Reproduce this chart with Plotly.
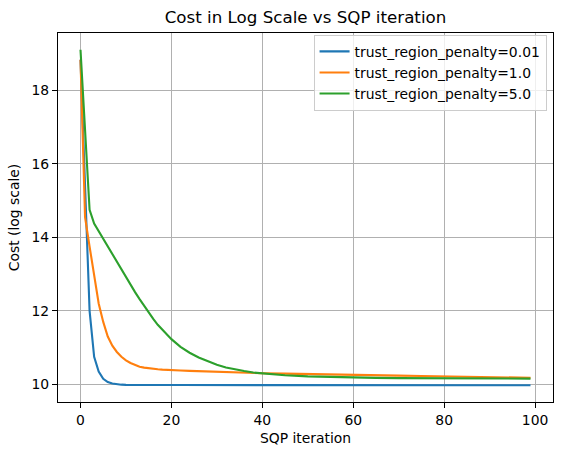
import plotly.graph_objects as go

iters = list(range(0, 21)) + [22, 24, 26, 28, 30, 32, 34, 36, 38, 40,
                              45, 50, 55, 60, 65, 70, 75, 80, 85, 90, 95, 99]

# log cost, trust_region_penalty = 0.01 / 1.0 / 5.0
cost_001 = [18.84, 15.4, 12.0, 10.75, 10.35, 10.15, 10.06, 10.02, 10.0, 9.99,
            9.985, 9.983, 9.982, 9.981, 9.98, 9.98, 9.98, 9.98, 9.98, 9.98,
            9.98, 9.98, 9.98, 9.979, 9.979, 9.979, 9.978, 9.978, 9.978, 9.978,
            9.978, 9.977, 9.977, 9.977, 9.977, 9.976, 9.976, 9.976, 9.976,
            9.975, 9.975, 9.975, 9.975]
cost_1 = [18.84, 14.55, 13.75, 12.95, 12.2, 11.7, 11.3, 11.05, 10.88, 10.75,
          10.65, 10.58, 10.52, 10.48, 10.455, 10.435, 10.42, 10.41, 10.40,
          10.39, 10.385, 10.375, 10.365, 10.355, 10.345, 10.34, 10.33, 10.32,
          10.315, 10.31, 10.30, 10.29, 10.275, 10.265, 10.255, 10.245, 10.235,
          10.225, 10.215, 10.205, 10.195, 10.185, 10.178]
cost_5 = [19.11, 16.9, 14.75, 14.38, 14.17, 13.96, 13.75, 13.54, 13.33, 13.12,
          12.91, 12.71, 12.51, 12.32, 12.13, 11.95, 11.78, 11.62, 11.48, 11.35,
          11.23, 11.02, 10.86, 10.73, 10.62, 10.53, 10.46, 10.40, 10.36, 10.32,
          10.295, 10.245, 10.215, 10.195, 10.182, 10.174, 10.168, 10.164,
          10.161, 10.159, 10.157, 10.156, 10.155]

series = [("trust_region_penalty=0.01", cost_001, "#1f77b4"),
          ("trust_region_penalty=1.0", cost_1, "#ff7f0e"),
          ("trust_region_penalty=5.0", cost_5, "#2ca02c")]

fig = go.Figure()
for name, ys, col in series:
    fig.add_scatter(x=iters, y=ys, mode="lines", name=name,
                    line=dict(color=col, width=2.1))

axis_style = dict(
    showline=True, linecolor="black", linewidth=1.1, mirror=True,
    showgrid=True, gridcolor="#b0b0b0", gridwidth=1.1, zeroline=False,
    ticks="outside", ticklen=5, tickwidth=1.1, tickcolor="black",
    tickfont=dict(size=13.9, color="black"), automargin=False,
)

fig.update_layout(
    width=563, height=455,
    margin=dict(l=58, r=10, t=33, b=53),
    paper_bgcolor="white", plot_bgcolor="white",
    font=dict(family="DejaVu Sans", size=13.9, color="black"),
    title=dict(text="Cost in Log Scale vs SQP iteration",
               font=dict(size=16.7), x=0.5, xref="paper", xanchor="center",
               y=1, yref="paper", yanchor="bottom", pad=dict(b=10)),
    xaxis=dict(axis_style, range=[-4.95, 103.95], tickvals=[0, 20, 40, 60, 80, 100],
               title=dict(text="SQP iteration", font=dict(size=13.9), standoff=6)),
    yaxis=dict(axis_style, range=[9.518, 19.567], tickvals=[10, 12, 14, 16, 18],
               title=dict(text="Cost (log scale)", font=dict(size=13.9), standoff=8)),
    legend=dict(x=0.987, y=0.995, xanchor="right", yanchor="top",
                bgcolor="rgba(255,255,255,0.8)", bordercolor="#cccccc",
                borderwidth=1, font=dict(size=13.9)),
    showlegend=True,
)

# drop the page's default body margin so the figure sits at the window corner
fig.write_html("out.html", config={"displayModeBar": False},
               post_script="document.body.style.margin='0';")
